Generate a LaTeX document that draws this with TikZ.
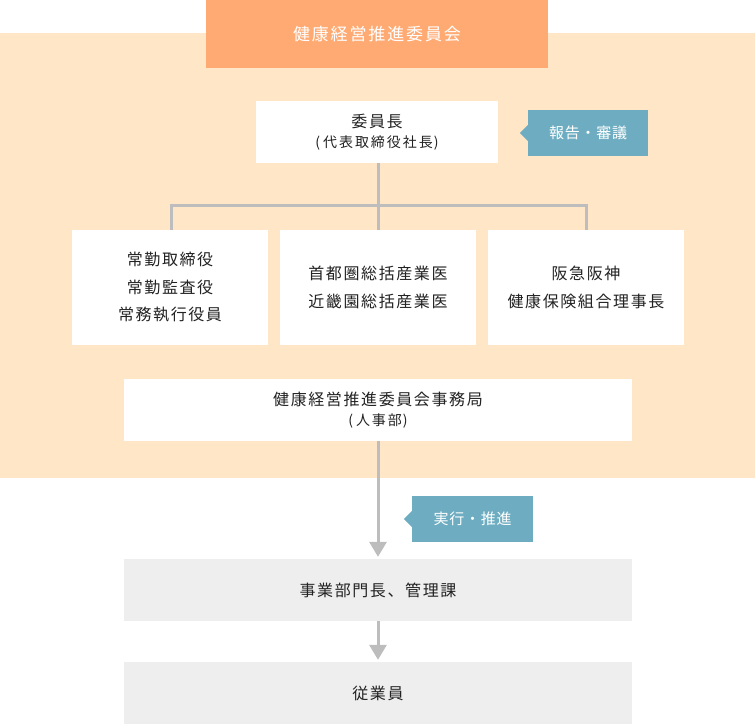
\documentclass[tikz,border=0pt]{standalone}
\usepackage{fontspec}
\setmainfont{Noto Sans CJK JP}
\newfontfamily\jpf[LetterSpace=10]{Noto Sans CJK JP}
\newfontfamily\jps[LetterSpace=14]{Noto Sans CJK JP}
\newfontfamily\jpg[LetterSpace=5]{Noto Sans CJK JP}
\newfontfamily\jpt[LetterSpace=11]{Noto Sans CJK JP}
\usetikzlibrary{arrows.meta}
\definecolor{beige}{HTML}{FFE6C7}
\definecolor{orangehead}{HTML}{FFAA73}
\definecolor{teal}{HTML}{6EADC1}
\definecolor{connc}{HTML}{BDBDBD}
\definecolor{lgray}{HTML}{EEEEEE}
\definecolor{txt}{HTML}{222222}
\tikzset{
  wbox/.style={fill=white, draw=none, inner sep=0pt, align=center, text=txt, font=\jpf\fontsize{16}{27.5}\selectfont},
  gbox/.style={fill=lgray, draw=none, inner sep=0pt, align=center, text=txt, font=\jpf\fontsize{16}{27.5}\selectfont},
  tagbox/.style={fill=teal, draw=none, inner sep=0pt, minimum width=120, minimum height=46, text=white, font=\jpg\fontsize{15}{18}\selectfont},
  conn/.style={draw=connc, line width=3pt},
  arr/.style={draw=connc, line width=3pt, -{Triangle[width=17pt,length=15pt]}, shorten >=2pt},
}
\newcommand{\subline}[1]{{\jps\fontsize{14}{20}\selectfont (\kern3pt#1\kern1pt)}}
\begin{document}
\begin{tikzpicture}[x=1pt,y=-1pt]
\useasboundingbox (0,0) rectangle (755,725);
\fill[beige] (0,33) rectangle (755,478);
\node[fill=orangehead, inner sep=0pt, minimum width=342, minimum height=68, text=white, font=\jpt\fontsize{17}{18}\selectfont] (title) at (377,34) {健康経営推進委員会};

\node[wbox, minimum width=242, minimum height=62, font=\jpf\fontsize{16}{20}\selectfont] (chair) at (377,132) {委員長\\[0pt]\subline{代表取締役社長}};

\node[tagbox] (tag1) at (588,133) {報告・審議};
\fill[teal] (tag1.west) ++(0,-8) -- ++(-8,8) -- ++(8,8) -- cycle;

\node[wbox, minimum width=196, minimum height=115] (b1) at (170,287.5) {常勤取締役\\常勤監査役\\常務執行役員};
\node[wbox, minimum width=196, minimum height=115] (b2) at (378,287.5) {首都圏総括産業医\\近畿園総括産業医};
\node[wbox, minimum width=196, minimum height=115] (b3) at (586,287.5) {阪急阪神\\健康保険組合理事長};

\coordinate (j) at (378,205);
\draw[conn] (chair.south -| j) -- (j);
\draw[conn] (j) -- (b2.north);
\draw[conn] (171,205) -- (586,205);
\draw[conn] (171,203.5) -- (171,230);
\draw[conn] (586,203.5) -- (b3.north);

\node[wbox, minimum width=508, minimum height=62, font=\jpf\fontsize{16}{20}\selectfont] (office) at (378,410) {健康経営推進委員会事務局\\[0pt]\subline{人事部}};

\node[gbox, minimum width=508, minimum height=62] (biz) at (378,590) {事業部門長、管理課};
\node[gbox, minimum width=508, minimum height=62] (emp) at (378,693) {従業員};

\draw[arr] (office.south) -- (biz.north);
\draw[arr] (biz.south) -- (emp.north);

\node[tagbox, minimum width=121] (tag2) at (472.5,519) {実行・推進};
\fill[teal] (tag2.west) ++(0,-8) -- ++(-8,8) -- ++(8,8) -- cycle;
\end{tikzpicture}
\end{document}
